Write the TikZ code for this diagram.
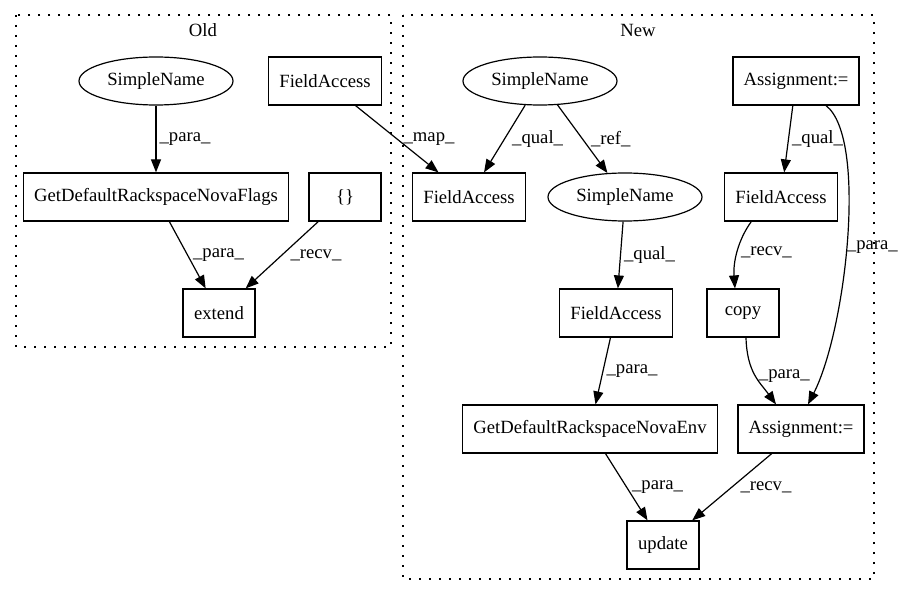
\documentclass[tikz,border=0pt]{standalone}
\usepackage{fontspec}
\setmainfont{Liberation Serif}
\usetikzlibrary{shapes.geometric,arrows.meta}

\begin{document}
\begin{tikzpicture}[x=1pt,y=-1pt,
    every node/.style={font=\fontsize{18.67}{22}\selectfont},
    box/.style={draw,rectangle,line width=1.2pt,minimum height=48pt,minimum width=72pt,inner xsep=10.5pt},
    oval/.style={draw,ellipse,line width=1.2pt,minimum width=154pt,minimum height=48pt,inner sep=0pt},
    edge/.style={line width=1.2pt,-{Triangle[length=13pt,width=10pt]}},
    lbl/.style={midway,right,inner sep=3pt},
    cluster/.style={line width=1.3pt,dash pattern=on 2pt off 8pt}]
        \useasboundingbox (0,0) rectangle (900,596);

        % draw clusters
        \draw[cluster] (16,15) rectangle (391,347);
        \node (oldTitle) at (203,30) {Old};
        \draw[cluster] (403,15) rectangle (874,579);
        \node (newTitle) at (638,30) {New};

        % draw nodes of the old version
        \node[oval] (oldName) at (156,81) {SimpleName};
        \node[box] (oldField) at (325,81) {FieldAccess};
        \node[box] (getFlags) at (156,197) {GetDefaultRackspaceNovaFlags};
        \node[box] (braces) at (345,197) {\{\}};
        \node[box] (extend) at (219,313) {extend};

        % draw nodes of the new version
        \node[oval] (newName) at (540,81) {SimpleName};
        \node[box] (assignTop) at (796,81) {Assignment:=};
        \node[box] (newField) at (469,197) {FieldAccess};
        \node[oval] (refName) at (625,197) {SimpleName};
        \node[box] (assignField) at (781,197) {FieldAccess};
        \node[box] (envField) at (616,313) {FieldAccess};
        \node[box] (copy) at (743,313) {copy};
        \node[box] (getEnv) at (590,429) {GetDefaultRackspaceNovaEnv};
        \node[box] (assignBot) at (801,429) {Assignment:=};
        \node[box] (update) at (663,545) {update};

        % draw edges
        \draw[edge] (oldName) -- (getFlags) node[lbl] {\_para\_};
        \draw[edge] (getFlags) -- (extend) node[lbl,xshift=2pt] {\_para\_};
        \draw[edge] (braces) -- (extend) node[lbl,xshift=5pt] {\_recv\_};
        \draw[edge] (oldField) -- (newField) node[lbl,xshift=3pt] {\_map\_};
        \draw[edge] (newName) -- (newField) node[lbl,xshift=4pt] {\_qual\_};
        \draw[edge] (newName) -- (refName) node[lbl,xshift=5pt] {\_ref\_};
        \draw[edge] (assignTop) -- (assignField) node[lbl] {\_qual\_};
        \draw[edge] (refName) -- (envField) node[lbl] {\_qual\_};
        \draw[edge] (assignField.south west) ++(27,0) .. controls (738,240) and (733,262) .. (copy.north -| 735,0) node[lbl,pos=0.5] {\_recv\_};
        \draw[edge] ([xshift=30pt]assignTop.south) .. controls (868,138) and (846,330) .. ([xshift=7pt]assignBot.north) node[lbl,pos=0.52,inner sep=0pt] {\_para\_};
        \draw[edge] (envField) -- (getEnv) node[lbl] {\_para\_};
        \draw[edge] ([xshift=3pt]copy.south) .. controls +(1,35) and +(-16,-22) .. ([xshift=-25pt]assignBot.north) node[lbl,pos=0.5] {\_para\_};
        \draw[edge] (getEnv) -- (update) node[lbl,xshift=2pt] {\_para\_};
        \draw[edge] (assignBot) -- (update) node[lbl,xshift=5pt] {\_recv\_};
\end{tikzpicture}
\end{document}
